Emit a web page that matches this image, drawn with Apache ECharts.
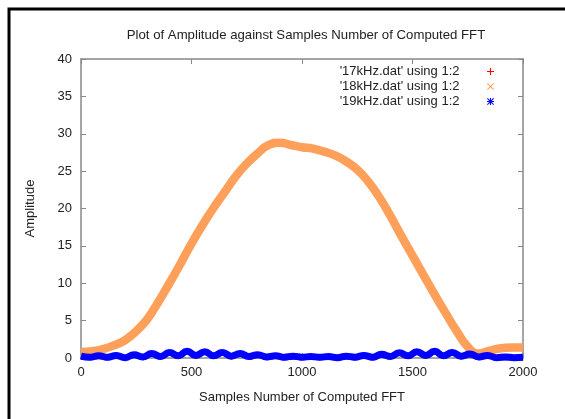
<!DOCTYPE html>
<html>
<head>
<meta charset="utf-8">
<script src="https://cdn.jsdelivr.net/npm/echarts@6/dist/echarts.min.js"></script>
<style>html,body{margin:0;padding:0;background:#fff;}#c{width:565px;height:419px;}</style>
</head>
<body>
<div id="c"></div>
<script>
// ---- data ----
var titleText = 'Plot of Amplitude against Samples Number of Computed FFT';
var xAxisName = 'Samples Number of Computed FFT';
var yAxisName = 'Amplitude';
var seriesNames = ["'17kHz.dat' using 1:2", "'18kHz.dat' using 1:2", "'19kHz.dat' using 1:2"];

var samples18 = [0,50,100,150,200,250,300,350,400,450,500,550,600,650,700,750,800,850,900,950,1000,1050,1100,1150,1200,1250,1300,1350,1400,1450,1500,1550,1600,1650,1700,1750,1800,1850,1900,1950,2000];
var values18 = [0.8,0.9,1.2,1.7,2.4,3.6,5.2,7.5,10.0,12.6,15.3,17.8,20.1,22.2,24.3,26.0,27.4,28.5,28.8,28.5,28.2,28.0,27.6,27.1,26.3,25.2,23.6,21.5,19.0,16.3,13.7,11.1,8.5,6.0,3.6,1.5,0.6,1.0,1.3,1.4,1.4];

var samplesLow = [0,40,80,120,160,200,240,280,320,360,400,440,480,520,560,600,640,680,720,760,800,840,880,920,960,1000,1040,1080,1120,1160,1200,1240,1280,1320,1360,1400,1440,1480,1520,1560,1600,1640,1680,1720,1760,1800,1840,1880,1920,1960,2000];
var values17 = [0.1,0.05,0.2,0.0,0.25,0.0,0.35,0.05,0.5,0.1,0.65,0.2,0.8,0.25,0.75,0.2,0.65,0.15,0.5,0.1,0.35,0.05,0.2,0.0,0.15,0.0,0.1,0.0,0.1,0.0,0.15,0.0,0.25,0.0,0.4,0.1,0.6,0.2,0.75,0.25,0.8,0.2,0.65,0.15,0.45,0.05,0.25,0.0,0.05,0.0,0.0];
var values19 = [0.25,0.1,0.3,0.1,0.35,0.05,0.45,0.15,0.6,0.2,0.75,0.3,0.9,0.35,0.85,0.3,0.75,0.25,0.6,0.2,0.45,0.15,0.3,0.1,0.25,0.1,0.2,0.1,0.2,0.05,0.25,0.1,0.35,0.1,0.5,0.2,0.7,0.3,0.85,0.35,0.9,0.3,0.75,0.25,0.55,0.15,0.35,0.05,0.15,0.05,0.1];

var xTicks = {min: 0, max: 2000, interval: 500};
var yTicks = {min: 0, max: 40, interval: 5};

function pairs(xs, ys) { return xs.map(function (x, i) { return [x, ys[i]]; }); }

var FONT = 'Liberation Sans, Arial, sans-serif';
var AXIS_COLOR = '#888888';
var TEXT_COLOR = '#222222';
var colors = ['#ff0000', '#ffa05a', '#0000ff'];
var icons = [
  'path://M4.2,0H5.8V4.2H10V5.8H5.8V10H4.2V5.8H0V4.2H4.2Z',
  'path://M1,0L5,4L9,0L10,1L6,5L10,9L9,10L5,6L1,10L0,9L4,5L0,1Z',
  'path://M4.2,0H5.8V4.2H10V5.8H5.8V10H4.2V5.8H0V4.2H4.2ZM1,0L5,4L9,0L10,1L6,5L10,9L9,10L5,6L1,10L0,9L4,5L0,1Z'
];

var chart = echarts.init(document.getElementById('c'), null, {renderer: 'canvas'});

function axis(extra, label) {
  return Object.assign({
    type: 'value',
    axisLine: {show: true, onZero: false, lineStyle: {color: AXIS_COLOR, width: 1.5}},
    axisTick: {show: true, inside: true, length: 5, lineStyle: {color: AXIS_COLOR, width: 1}},
    splitLine: {show: false},
    axisLabel: label ? Object.assign({color: TEXT_COLOR, fontSize: 13, fontFamily: FONT,
      formatter: function (v) { return String(v); }}, label) : {show: false},
    nameTextStyle: {color: TEXT_COLOR, fontSize: 13, fontFamily: FONT}
  }, extra);
}

var option = {
  animation: false,
  backgroundColor: '#ffffff',
  title: {
    text: titleText,
    left: 301,
    textAlign: 'center',
    top: 24,
    textStyle: {fontSize: 13.2, fontWeight: 'normal', color: TEXT_COLOR, fontFamily: FONT}
  },
  grid: {left: 81, right: 42, top: 59, bottom: 61, containLabel: false},
  legend: {
    orient: 'vertical',
    align: 'right',
    right: 66,
    top: 60,
    itemWidth: 52,
    itemHeight: 7,
    itemGap: 2,
    symbolKeepAspect: true,
    textStyle: {fontSize: 13, color: TEXT_COLOR, fontFamily: FONT},
    data: seriesNames.map(function (n, i) {
      return {name: n, icon: icons[i], itemStyle: {color: colors[i], borderWidth: 0}};
    })
  },
  xAxis: [
    axis(Object.assign({position: 'bottom', name: xAxisName, nameLocation: 'middle', nameGap: 33}, xTicks), {margin: 8}),
    axis(Object.assign({position: 'top'}, xTicks), null)
  ],
  yAxis: [
    axis(Object.assign({position: 'left', name: yAxisName, nameLocation: 'middle', nameGap: 44}, yTicks), {margin: 9}),
    axis(Object.assign({position: 'right'}, yTicks), null)
  ],
  graphic: [{
    type: 'polyline',
    shape: {points: [[9, 419], [9, 9], [565, 9]]},
    style: {stroke: '#000000', lineWidth: 3, fill: null},
    silent: true,
    z: 100
  }],
  series: [
    {
      name: seriesNames[0], type: 'line', xAxisIndex: 0, yAxisIndex: 0,
      data: pairs(samplesLow, values17), smooth: true, showSymbol: false, clip: false,
      lineStyle: {color: colors[0], width: 5}, itemStyle: {color: colors[0]}, z: 2
    },
    {
      name: seriesNames[1], type: 'line', xAxisIndex: 0, yAxisIndex: 0,
      data: pairs(samples18, values18), smooth: true, showSymbol: false, clip: false,
      lineStyle: {color: colors[1], width: 8.5}, itemStyle: {color: colors[1]}, z: 3
    },
    {
      name: seriesNames[2], type: 'line', xAxisIndex: 0, yAxisIndex: 0,
      data: pairs(samplesLow, values19), smooth: true, showSymbol: false, clip: false,
      lineStyle: {color: colors[2], width: 7}, itemStyle: {color: colors[2]}, z: 4
    }
  ]
};
chart.setOption(option);
</script>
</body>
</html>
